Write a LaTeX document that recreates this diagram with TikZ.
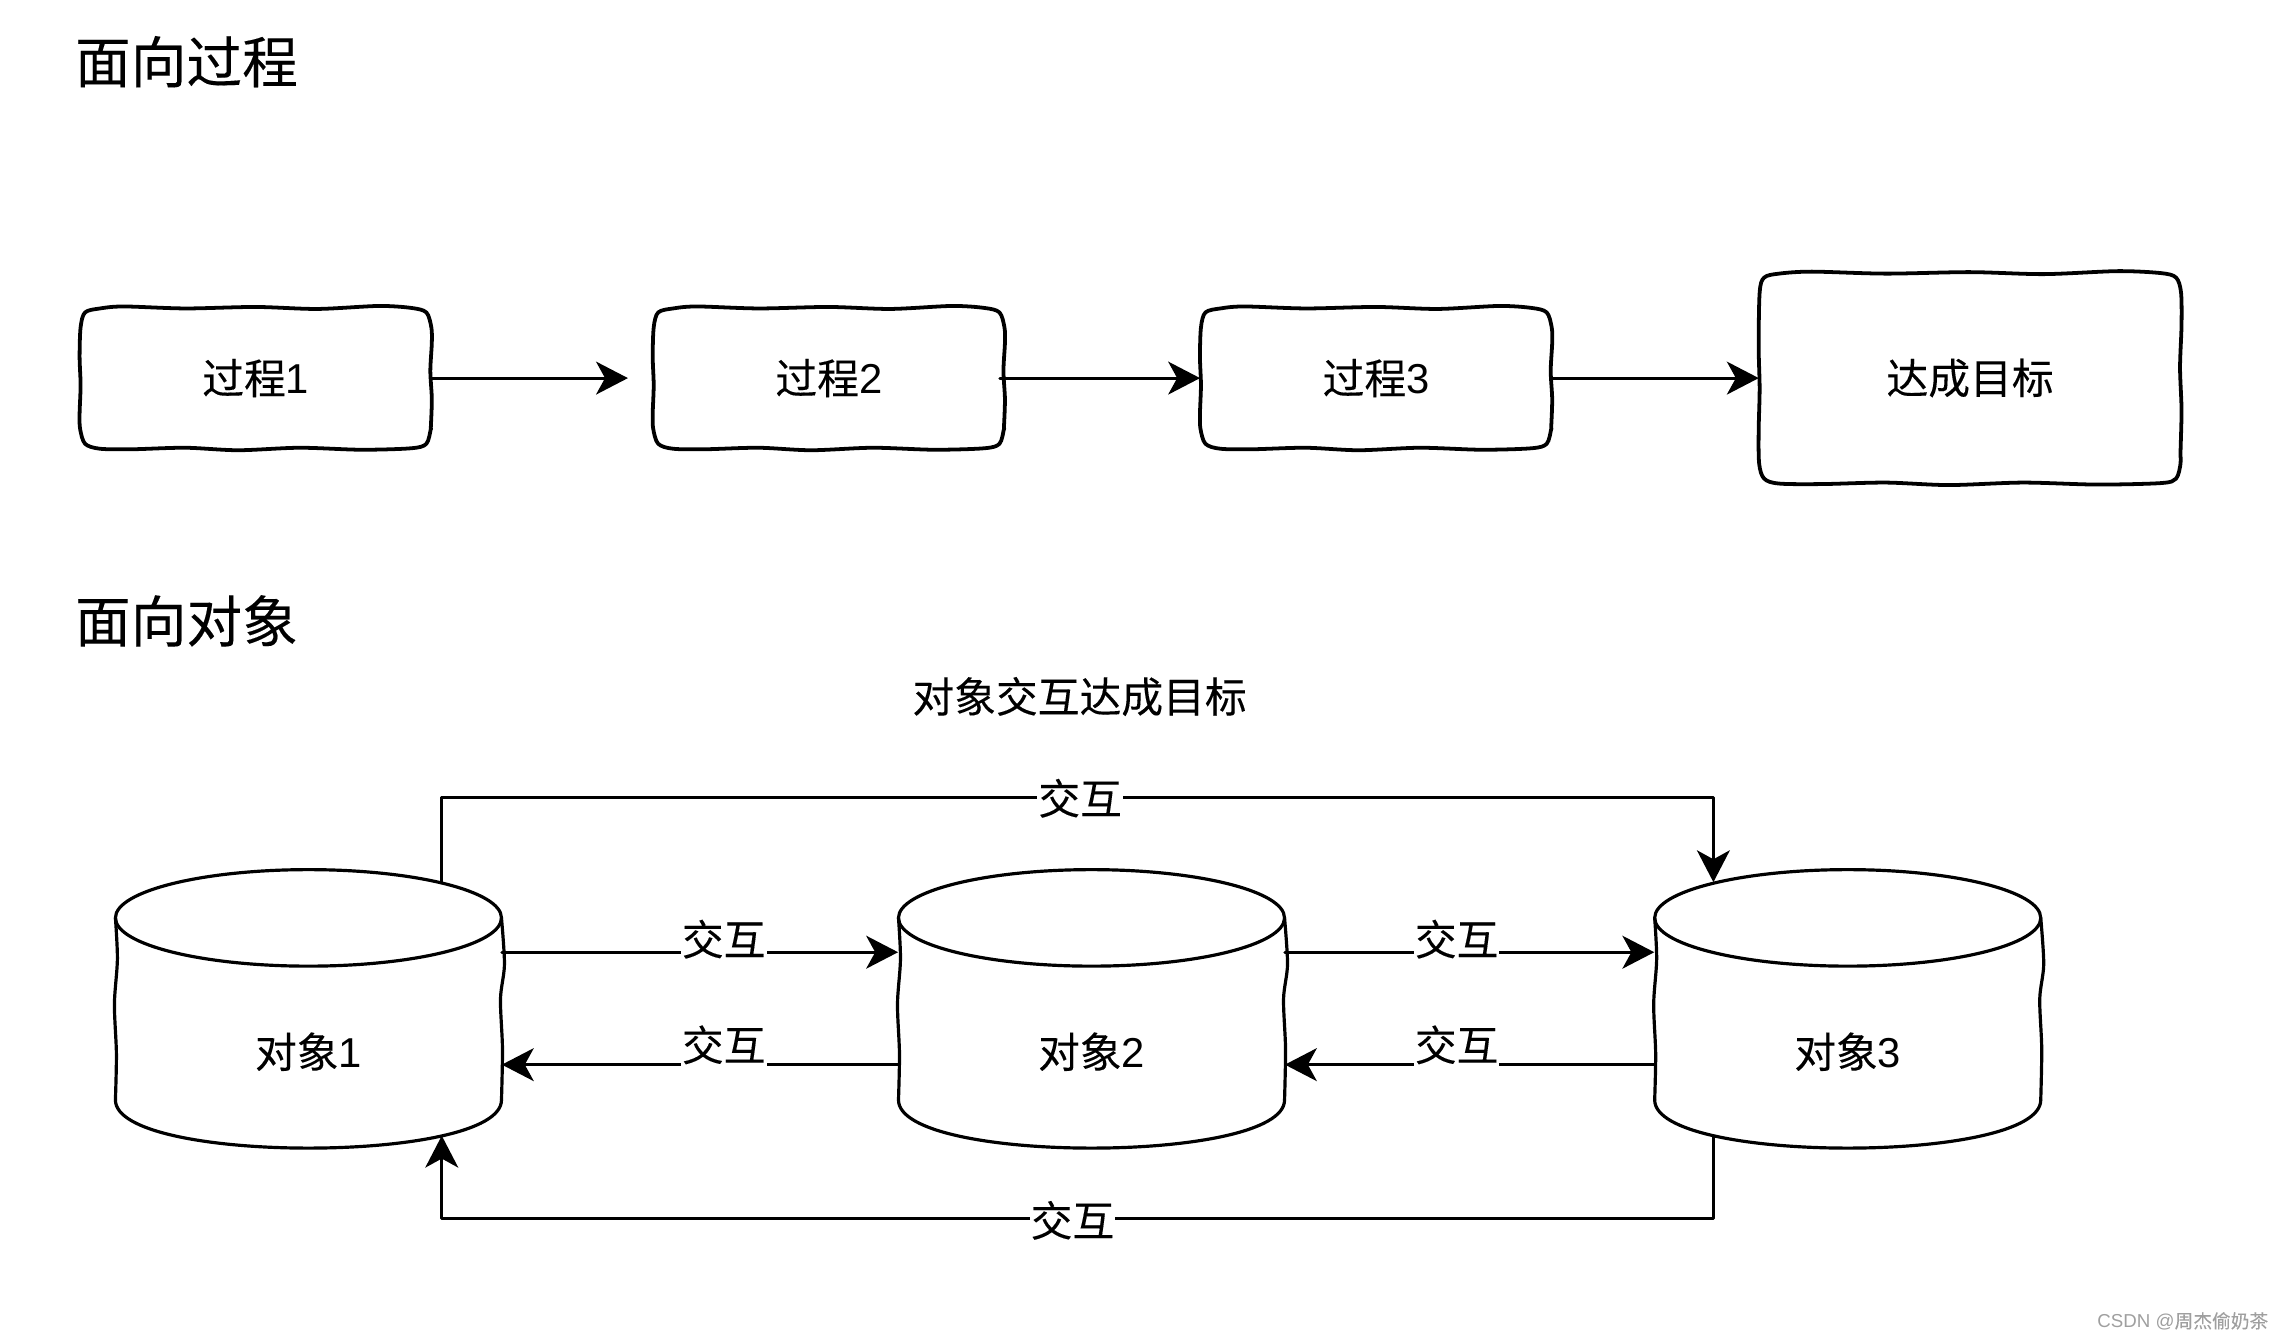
\documentclass[tikz,border=0pt]{standalone}
\usepackage{fontspec}
\setmainfont{Liberation Sans}
\newfontfamily\cjk[FakeBold=0.15]{Noto Sans CJK SC}
\usetikzlibrary{arrows.meta,calc}
\newcommand{\hdfont}{\fontsize{28pt}{32pt}\selectfont}
\newcommand{\txfont}{\fontsize{21pt}{24pt}\selectfont}
\newcommand{\upword}[1]{\raisebox{#1}[0pt][0pt]{\cjk 交互}}
\begin{document}
\begin{tikzpicture}[x=0.5pt,y=-0.5pt,line join=round,line cap=round,>={Stealth[length=16pt,width=16.5pt,inset=4.5pt]},font=\txfont]
    \tikzset{
        boxline/.style={line width=1.9pt},
        objbox/.style={inner sep=0pt,minimum width=194pt,minimum height=140pt},
        objline/.style={line width=1.6pt},
        flow/.style={->,line width=1.6pt},
        flowlabel/.style={fill=white,inner sep=0pt,minimum width=43pt,minimum height=15pt},
        title/.style={font=\hdfont\cjk,anchor=west,inner sep=0pt},
    }
    \useasboundingbox (0,0) rectangle (2295.5,1348.8);
    \node[title] (headproc) at (75,62) {面向过程};
    \node[title] (headobj) at (75,624) {面向对象};
    \node[inner sep=0pt,font=\txfont\cjk] (goaltext) at (1085,700) {对象交互达成目标};
    % top row
    \foreach \nm/\cx/\bw/\bh/\txt in {proca/257/176.5/71/{\cjk 过程}1,procb/833/176.5/71/{\cjk 过程}2,procc/1383/176.5/71/{\cjk 过程}3,goal/1980/212/106/{\cjk 达成目标}}{
        \node[inner sep=0pt,minimum width=\bw pt,minimum height=\bh pt] (\nm) at (\cx,380) {\raisebox{-0.7pt}{\txt}};
        \begin{scope}[shift={(\nm.center)}]
            \draw[boxline] plot[smooth cycle,tension=.5] coordinates {
                (-\bw+20,-\bh+1) (-.75*\bw,-\bh-1) (-.4*\bw,-\bh+1) (0,-\bh-.5) (.35*\bw,-\bh+1.5) (.7*\bw,-\bh-1.5) (\bw-20,-\bh+.5)
                (\bw-5,-\bh+5) (\bw,-\bh+20) (\bw+.5,-.5*\bh) (\bw-1,-.1*\bh) (\bw+.5,.3*\bh) (\bw-.5,.7*\bh) (\bw-.5,\bh-20) (\bw-5,\bh-5)
                (\bw-20,\bh-.5) (.6*\bw,\bh+1) (.25*\bw,\bh-1) (-.1*\bw,\bh+1.5) (-.4*\bw,\bh-1) (-.7*\bw,\bh+.5) (-\bw+20,\bh)
                (-\bw+5,\bh-5) (-\bw,\bh-20) (-\bw-.5,.5*\bh) (-\bw+.5,.1*\bh) (-\bw-.5,-.3*\bh) (-\bw+.5,-\bh+20) (-\bw+5,-\bh+5)};
        \end{scope}
    }
    \coordinate (procb-in) at ([xshift=-12.5pt]procb.west);
    \coordinate (procb-out) at ([xshift=-2.5pt]procb.east);
    \draw[flow] (proca.east) -- (procb-in);
    \draw[flow] (procb-out) -- (procc.west);
    \draw[flow] (procc.east) -- (goal.west);
    % bottom row
    \foreach \nm/\cx/\txt in {obja/310/{\cjk 对象}1,objb/1097/{\cjk 对象}2,objc/1857/{\cjk 对象}3}{
        \node[objbox] (\nm) at (\cx,1014) {};
        \node[inner sep=0pt] (\nm-text) at (\cx,1057) {\txt};
        \begin{scope}[shift={(\nm.center)}]
            \draw[objline] (0,-91.5) ellipse (194 and 48.5);
            \draw[objline] plot[smooth] coordinates {(194,-91.5) (197,-45) (193,-10) (195,40) (194,91.5)};
            \draw[objline] plot[smooth] coordinates {(-194,-91.5) (-192,-50) (-195,-5) (-193,45) (-194,91.5)};
            \draw[objline] (-194,91.5) .. controls (-194,156) and (194,156) .. (194,91.5);
        \end{scope}
    }
    \coordinate (obja-top) at ([shift={(134,13)}]obja.north);
    \coordinate (obja-bot) at ([shift={(134,-13)}]obja.south);
    \coordinate (objc-top) at ([shift={(-135,13)}]objc.north);
    \coordinate (objc-bot) at ([shift={(-135,-13)}]objc.south);
    \draw[flow] (obja-top) -- ++(0,-85) -| node[flowlabel,pos=.251] (top-word) {\upword{-8.4pt}} (objc-top);
    \draw[flow] (objc-bot) -- ++(0,83) -| node[flowlabel,pos=.252] (bot-word) {\upword{-9.1pt}} (obja-bot);
    \draw[flow] ([yshift=28.5pt]obja.east) -- node[flowlabel,pos=.56] (ab-word) {\upword{-1.5pt}} ([yshift=28.5pt]objb.west);
    \draw[flow] ([yshift=28.5pt]objb.east) -- node[flowlabel,pos=.465] (bc-word) {\upword{-1.5pt}} ([yshift=28.5pt]objc.west);
    \draw[flow] ([yshift=-28pt]objb.west) -- node[flowlabel,pos=.44] (ba-word) {\upword{1.9pt}} ([yshift=-28pt]obja.east);
    \draw[flow] ([yshift=-28pt]objc.west) -- node[flowlabel,pos=.535] (cb-word) {\upword{1.9pt}} ([yshift=-28pt]objb.east);
    \node[anchor=east,inner sep=0pt,gray!75,font=\fontsize{9.4pt}{12pt}\selectfont] (mark) at (2280,1328) {CSDN @{\cjk 周杰偷奶茶}};
\end{tikzpicture}
\end{document}
